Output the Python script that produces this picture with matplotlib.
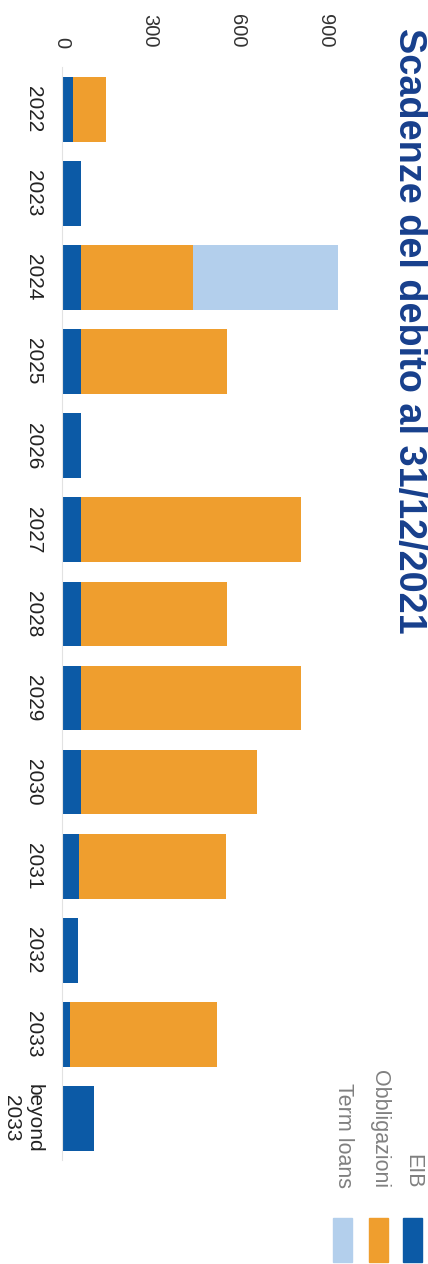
import numpy as np
import matplotlib
matplotlib.use('Agg')
import matplotlib.pyplot as plt
from matplotlib.patches import Rectangle

plt.rcParams['font.family'] = ['Liberation Sans', 'DejaVu Sans']

years = ['2022', '2023', '2024', '2025', '2026', '2027', '2028', '2029',
         '2030', '2031', '2032', '2033', 'beyond\n2033']
eib = [37, 64, 64, 64, 64, 64, 64, 64, 64, 58, 55, 27, 109]
obbligazioni = [113, 0, 383, 500, 0, 750, 500, 750, 600, 500, 0, 500, 0]
term_loans = [0, 0, 494, 0, 0, 0, 0, 0, 0, 0, 0, 0, 0]
ticks = [0, 300, 600, 900]
series_names = ['EIB', 'Obbligazioni', 'Term loans']
colors = ['#0c5aa6', '#ef9e2e', '#b3cfec']
title = 'Scadenze del debito al 31/12/2021'

W, H = 428, 1264
fig = plt.figure(figsize=(W / 100, H / 100), dpi=100)
ax = fig.add_axes([62 / W, 0.0819, 293.3 / W, 0.8648])

pos = np.arange(len(years))
left = np.zeros(len(years))
for vals, c in zip([eib, obbligazioni, term_loans], colors):
    ax.barh(pos, vals, left=left, height=0.77, color=c, edgecolor='none')
    left += np.array(vals)

ax.set_xlim(0, 1000)
ax.set_ylim(12.5, -0.5)
ax.xaxis.tick_top()
ax.set_xticks(ticks)
ax.set_xticklabels([str(t) for t in ticks])
ax.tick_params(axis='x', length=0, pad=14, labelsize=14.5, labelrotation=-90,
               colors='#333333')
ax.set_yticks(pos)
ax.set_yticklabels(years)
ax.tick_params(axis='y', length=0, pad=13.5, labelsize=15, labelrotation=-90,
               colors='#222222')
for lbl in ax.get_yticklabels():
    lbl.set_va('center')
    lbl.set_multialignment('center')
for s in ['top', 'right', 'bottom']:
    ax.spines[s].set_visible(False)
ax.spines['left'].set_color('#e2e2e2')

# title along the right edge
fig.text(399 / W, 1 - 28 / H, title, rotation=-90, rotation_mode='anchor',
         ha='left', va='baseline', fontsize=27.3, fontweight='bold',
         color='#173f8c')

# legend
for name, c, xc in zip(series_names, colors, [413, 379, 343]):
    fig.patches.append(Rectangle(((xc - 10) / W, 1 - 1262 / H), 19 / W, 44 / H,
                                 transform=fig.transFigure, color=c))
    fig.text(xc / W, 1 - 1188 / H, name, rotation=-90, ha='center', va='bottom',
             fontsize=15.5, color='#808080')

fig.savefig('out.png', dpi=100)
